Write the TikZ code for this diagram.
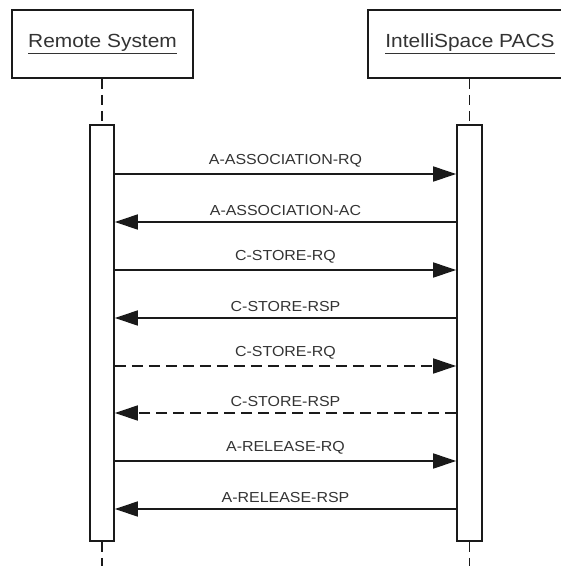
\documentclass[tikz,border=0pt]{standalone}
\usepackage{fontspec}
\setmainfont{Liberation Sans}[FakeStretch=1.1]
\usetikzlibrary{arrows.meta}
\definecolor{ln}{HTML}{1a1a1a}
\definecolor{tx}{HTML}{333333}
\tikzset{
  objbox/.style={draw=ln, line width=1.7pt, fill=white, minimum height=68pt, inner sep=0pt, text=tx, font=\fontsize{19}{22}\selectfont},
  actbar/.style={draw=ln, line width=1.7pt, fill=white, inner sep=0pt, minimum height=416pt},
  lifeline/.style={draw=ln, line width=1.7pt, dash pattern=on 10pt off 6pt},
  msg/.style={draw=ln, line width=1.7pt, -{Triangle[length=23pt,width=15pt]}},
  msgdash/.style={msg, dash pattern=on 11pt off 6pt},
  lbl/.style={text=tx, font=\fontsize{14.5}{17}\selectfont, inner sep=0pt}
}
\begin{document}
\begin{tikzpicture}[x=1pt,y=-1pt]
\useasboundingbox (0,0) rectangle (561,566);
\clip (0,0) rectangle (561,566);
% object boxes
\node[objbox, minimum width=181pt] (rs) at (102.5,44) {\underline{Remote System}};
\node[objbox, minimum width=204pt] (ip) at (470,44) {\underline{IntelliSpace PACS}};
% lifeline ends
\coordinate (lsBot) at (102,566);
\coordinate (ipBot) at (469.5,566);
% activation bars
\node[actbar, minimum width=24pt] (aL) at (102,333) {};
\node[actbar, minimum width=25pt] (aR) at (469.5,333) {};
\draw[lifeline] (rs.south -| aL.north) -- (aL.north);
\draw[lifeline] (ip.south -| aR.north) -- (aR.north);
\draw[lifeline] (aL.south) -- (lsBot);
\draw[lifeline] (aR.south) -- (ipBot);
% message endpoints
\foreach \i/\y in {1/174,2/222,3/270,4/318,5/366,6/413,7/461,8/509}{
  \coordinate (L\i) at (aL.east |- 0,\y);
  \coordinate (R\i) at (aR.west |- 0,\y);
}
\draw[msg] (L1) -- node[lbl, above=6pt] {A-ASSOCIATION-RQ} (R1);
\draw[msg] (R2) -- node[lbl, above=6pt] {A-ASSOCIATION-AC} (L2);
\draw[msg] (L3) -- node[lbl, above=6pt] {C-STORE-RQ} (R3);
\draw[msg] (R4) -- node[lbl, above=6pt] {C-STORE-RSP} (L4);
\draw[msgdash] (L5) -- node[lbl, above=6pt] {C-STORE-RQ} (R5);
\draw[msgdash] (R6) -- node[lbl, above=6pt] {C-STORE-RSP} (L6);
\draw[msg] (L7) -- node[lbl, above=6pt] {A-RELEASE-RQ} (R7);
\draw[msg] (R8) -- node[lbl, above=6pt] {A-RELEASE-RSP} (L8);
\end{tikzpicture}
\end{document}
